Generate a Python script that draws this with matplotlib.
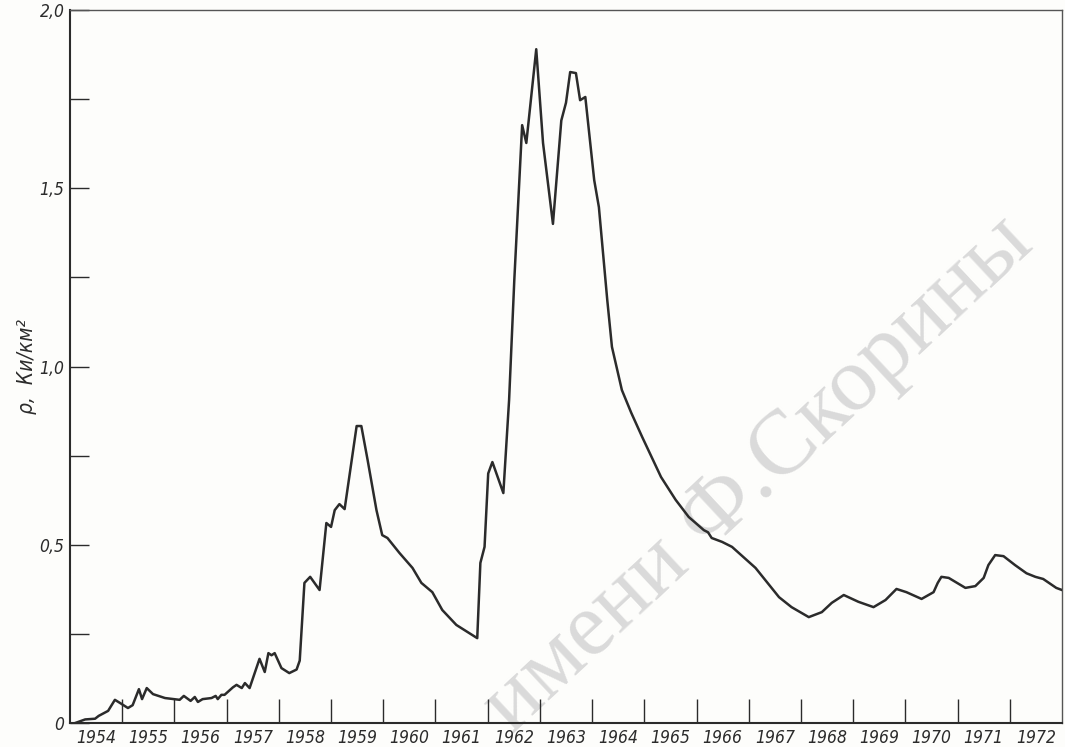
import matplotlib.pyplot as plt
import numpy as np

# deposition density
years = [
    1954.10, 1954.29, 1954.48, 1954.55, 1954.73, 1954.86, 1954.96, 1955.11, 1955.20,
    1955.32, 1955.38, 1955.47, 1955.59, 1955.82, 1956.10, 1956.18, 1956.31, 1956.39,
    1956.45, 1956.54, 1956.71, 1956.79, 1956.83, 1956.90, 1956.96, 1957.12, 1957.19,
    1957.29, 1957.35, 1957.44, 1957.63, 1957.73, 1957.80, 1957.86, 1957.92, 1958.05,
    1958.20, 1958.34, 1958.40, 1958.49, 1958.60, 1958.78, 1958.91, 1959.00, 1959.07,
    1959.16, 1959.26, 1959.49, 1959.58, 1959.70, 1959.87, 1959.98, 1960.08, 1960.31,
    1960.56, 1960.73, 1960.94, 1961.13, 1961.40, 1961.80, 1961.86, 1961.94, 1962.01,
    1962.09, 1962.30, 1962.41, 1962.51, 1962.66, 1962.74, 1962.93, 1963.06, 1963.25,
    1963.41, 1963.50, 1963.58, 1963.69, 1963.77, 1963.87, 1964.04, 1964.13, 1964.29,
    1964.38, 1964.57, 1964.75, 1964.96, 1965.32, 1965.60, 1965.85, 1966.14, 1966.22,
    1966.29, 1966.49, 1966.68, 1967.13, 1967.58, 1967.82, 1968.15, 1968.40, 1968.59,
    1968.82, 1969.10, 1969.39, 1969.62, 1969.83, 1970.02, 1970.31, 1970.54, 1970.62,
    1970.69, 1970.83, 1971.15, 1971.34, 1971.50, 1971.59, 1971.72, 1971.88, 1972.10,
    1972.32, 1972.49, 1972.64, 1972.89, 1973.00,
]
density = [
    0.000, 0.010, 0.012, 0.020, 0.034, 0.065, 0.056, 0.042, 0.050,
    0.095, 0.067, 0.098, 0.081, 0.070, 0.065, 0.076, 0.062, 0.073,
    0.059, 0.067, 0.070, 0.076, 0.067, 0.079, 0.079, 0.100, 0.107,
    0.098, 0.112, 0.098, 0.180, 0.143, 0.196, 0.190, 0.196, 0.154,
    0.140, 0.150, 0.175, 0.393, 0.410, 0.373, 0.561, 0.550, 0.597,
    0.614, 0.600, 0.833, 0.833, 0.738, 0.597, 0.527, 0.519, 0.477,
    0.435, 0.393, 0.367, 0.317, 0.275, 0.238, 0.449, 0.494, 0.700,
    0.732, 0.645, 0.906, 1.243, 1.677, 1.627, 1.890, 1.627, 1.400,
    1.690, 1.740, 1.826, 1.823, 1.747, 1.756, 1.523, 1.447, 1.187,
    1.055, 0.934, 0.870, 0.802, 0.690, 0.626, 0.578, 0.541, 0.535,
    0.519, 0.508, 0.494, 0.435, 0.353, 0.325, 0.297, 0.311, 0.337,
    0.359, 0.340, 0.325, 0.345, 0.376, 0.367, 0.348, 0.367, 0.393,
    0.410, 0.407, 0.379, 0.384, 0.407, 0.443, 0.471, 0.468, 0.443,
    0.420, 0.410, 0.404, 0.379, 0.373,
]

year_labels = [str(y) for y in range(1954, 1973)]
y_major = [0, 0.5, 1.0, 1.5, 2.0]
y_major_labels = ['0', '0,5', '1,0', '1,5', '2,0']
y_minor = [0.25, 0.75, 1.25, 1.75]

ink = '#2b2b2b'
paper = '#fdfdfb'
tick_font = dict(fontsize=12.5, style='italic', stretch='condensed', color=ink)

fig = plt.figure(figsize=(10.65, 7.47), dpi=100, facecolor=paper)
ax = fig.add_axes([70 / 1065, 1 - 723 / 747, (1062 - 70) / 1065, (723 - 10) / 747])
ax.set_facecolor(paper)

# faint library stamp across the scan, kept under the axes
fig.text(0.712, 0.365, 'имени Ф.Скорины', rotation=43, ha='center', va='center',
         fontsize=66, family='Liberation Serif', color='#dadada', zorder=-1)
ax.patch.set_alpha(0)

ax.plot(years, density, color=ink, linewidth=1.8, solid_joinstyle='round', zorder=3)

ax.set_xlim(1954, 1973)
ax.set_ylim(0, 2.0)

# year boundaries as inward ticks, year names centred between them
ax.set_xticks(range(1955, 1973))
ax.set_xticklabels([])
ax.set_xticks(np.arange(1954.5, 1973, 1.0), minor=True)
ax.set_xticklabels(year_labels, minor=True, **tick_font)
ax.tick_params(axis='x', which='major', direction='in', length=17, width=1.0, color=ink)
ax.tick_params(axis='x', which='minor', length=0, pad=4)

ax.set_yticks(y_major)
ax.set_yticklabels(y_major_labels, **tick_font)
ax.set_yticks(y_minor, minor=True)
ax.tick_params(axis='y', which='both', direction='in', length=14, width=1.0, color=ink, pad=4)

ax.set_ylabel('ρ,  Ки/км²', fontsize=15, style='italic', stretch='condensed', color=ink)
ax.yaxis.set_label_coords(-0.033, 0.5)

for side in ['left', 'bottom']:
    ax.spines[side].set_color(ink)
    ax.spines[side].set_linewidth(1.5)
for side in ['top', 'right']:
    ax.spines[side].set_color('#555555')
    ax.spines[side].set_linewidth(1.0)

plt.savefig('out.png', dpi=100, facecolor=paper)
